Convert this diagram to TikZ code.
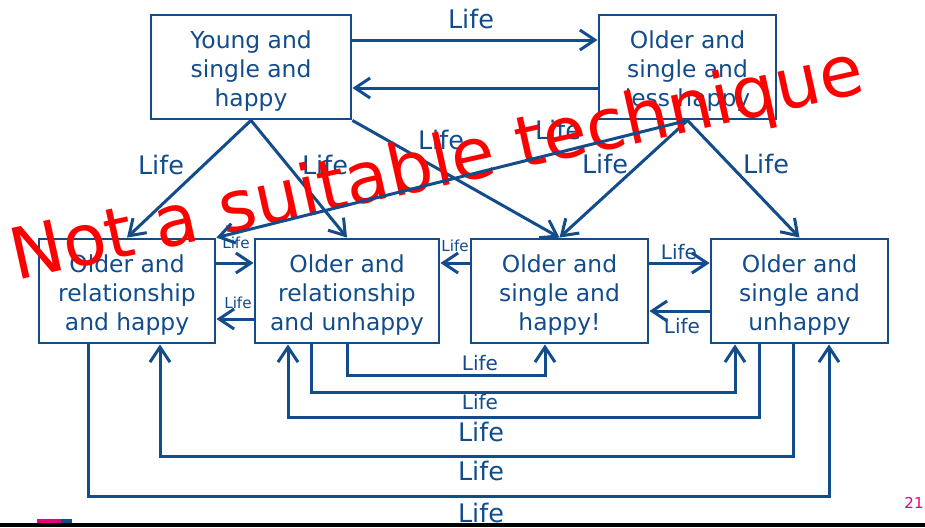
\documentclass[tikz,border=0pt]{standalone}
\usepackage{fontspec}
\setmainfont{DejaVu Sans}
\usetikzlibrary{arrows.meta}
\definecolor{lifeblue}{RGB}{18,76,138}
\definecolor{slidepink}{RGB}{228,0,124}

\tikzset{
  state/.style={draw=lifeblue, line width=1.4pt, text=lifeblue, align=center,
    minimum height=52pt, inner sep=0pt, font=\fontsize{11.7}{14.5}\selectfont,
    text height=41.8pt},
  arr/.style={draw=lifeblue, line width=1.5pt, -{Straight Barb[length=7.5pt,width=10pt]}},
  lbl/.style={text=lifeblue, inner sep=0pt, font=\fontsize{12.75}{14}\selectfont},
  lblmid/.style={lbl, font=\fontsize{10}{12}\selectfont},
  lbltiny/.style={lbl, font=\fontsize{7.6}{9}\selectfont},
  warn/.style={text=red, inner sep=0pt, font=\fontsize{35.5}{40}\selectfont}
}

\begin{document}
\begin{tikzpicture}[x=0.5pt, y=-0.5pt]
            \useasboundingbox (0,0) rectangle (925,527);
            % states
            \node[state, minimum width=100pt] (young) at (251,67) {Young and\\single and\\happy};
            \node[state, minimum width=88.5pt] (lesshappy) at (687.5,67) {Older and\\single and\\less happy};
            \node[state, minimum width=88pt] (relhappy) at (127,291) {Older and\\relationship\\and happy};
            \node[state, minimum width=92pt] (relunhappy) at (347,291) {Older and\\relationship\\and unhappy};
            \node[state, minimum width=88.5pt] (singhappy) at (559.5,291) {Older and\\single and\\happy!};
            \node[state, minimum width=88.5pt] (singunhappy) at (799.5,291) {Older and\\single and\\unhappy};
            % top row
            \draw[arr] ([yshift=13.5pt]young.east) -- ([yshift=13.5pt]lesshappy.west);
            \draw[arr] ([yshift=-10.5pt]lesshappy.west) -- ([yshift=-10.5pt]young.east);
            \draw[arr] (young.south) -- (relhappy.north);
            \draw[arr] (young.south) -- (relunhappy.north);
            \draw[arr] (young.south east) -- (singhappy.north);
            \draw[arr] (lesshappy.south) -- (singhappy.north);
            \draw[arr] (lesshappy.south) -- (singunhappy.north);
            % second row
            \draw[arr] ([yshift=14pt]relhappy.east) -- ([yshift=14pt]relunhappy.west);
            \draw[arr] ([yshift=-14pt]relunhappy.west) -- ([yshift=-14pt]relhappy.east);
            \draw[arr] ([yshift=14pt]singhappy.west) -- ([yshift=14pt]relunhappy.east);
            \draw[arr] ([yshift=14pt]singhappy.east) -- ([yshift=14pt]singunhappy.west);
            \draw[arr] ([yshift=-10pt]singunhappy.west) -- ([yshift=-10pt]singhappy.east);
            % loops underneath
            \draw[arr] (relunhappy.south) -- ++(0,31) -| ([xshift=-7.25pt]singhappy.south);
            \draw[arr] ([xshift=-18pt]relunhappy.south) -- ++(0,48) -| ([xshift=-32.25pt]singunhappy.south);
            \draw[arr] ([xshift=-20.25pt]singunhappy.south) -- ++(0,73) -| ([xshift=-29.5pt]relunhappy.south);
            \draw[arr] ([xshift=-3.25pt]singunhappy.south) -- ++(0,112) -| ([xshift=16.5pt]relhappy.south);
            \draw[arr] ([xshift=-19.5pt]relhappy.south) -- ++(0,152) -| ([xshift=14.75pt]singunhappy.south);
            % labels
            \node[lbl] (l1) at (471,19) {Life};
            \node[lbl] (l2) at (161,165) {Life};
            \node[lbl] (l3) at (325,165) {Life};
            \node[lbl] (l4) at (441,140) {Life};
            \node[lbl] (l5) at (558,130) {Life};
            \node[lbl] (l6) at (605,164) {Life};
            \node[lbl] (l7) at (766,164) {Life};
            \node[lbltiny] (l8) at (236,243) {Life};
            \node[lbltiny] (l9) at (238,303) {Life};
            \node[lbltiny] (l10) at (455,246) {Life};
            \node[lblmid] (l11) at (679,252) {Life};
            \node[lblmid] (l12) at (682,326) {Life};
            \node[lblmid] (l13) at (480,363) {Life};
            \node[lblmid] (l14) at (480,402) {Life};
            \node[lbl] (l15) at (481,432) {Life};
            \node[lbl] (l16) at (481,471) {Life};
            \node[lbl] (l17) at (481,513) {Life};
            % stamp
            \node[warn, rotate=12.5, anchor=base west] (stamp) at (16,281) {Not a suitable technique};
            \draw[arr] (lesshappy.south) -- (relhappy.north east);
            % slide footer
            \fill[black] (0,523) rectangle (925,527);
            \fill[slidepink] (37,519) rectangle (61,523);
            \fill[lifeblue] (61,519) rectangle (72,523);
            \node[text=slidepink, inner sep=0pt, font=\fontsize{7.5}{9}\selectfont] (page) at (914,503) {21};
      \end{tikzpicture}
\end{document}
